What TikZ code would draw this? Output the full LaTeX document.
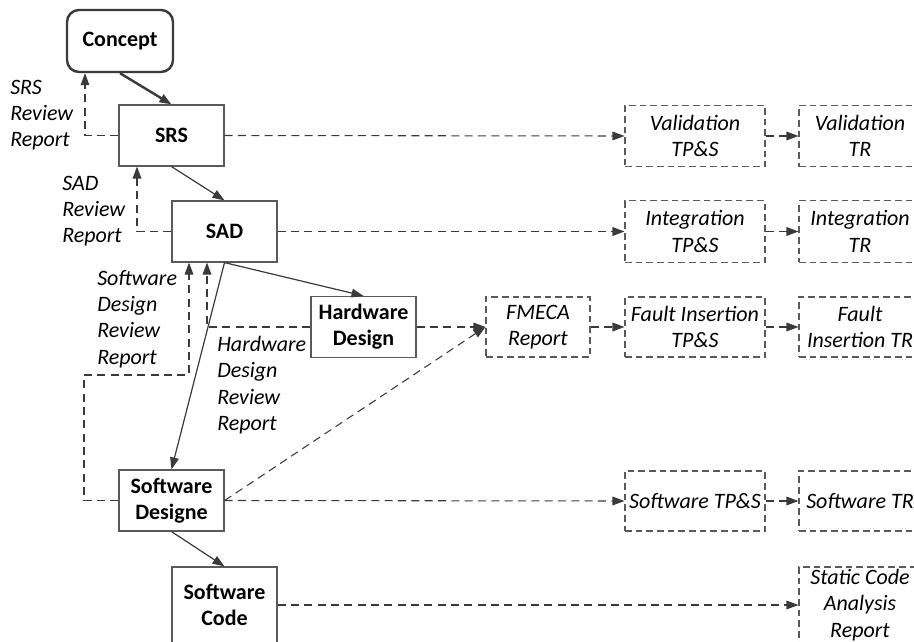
\documentclass[tikz,border=0pt]{standalone}
\usepackage{fontspec}
\setmainfont{Carlito}
\usetikzlibrary{arrows.meta,calc}
\definecolor{linegray}{HTML}{3A3A3A}
\definecolor{boxgray}{HTML}{5A5A5A}
\tikzset{
  x=0.75pt, y=-0.75pt,
  every node/.style={font=\fontsize{16.5pt}{19.7pt}\selectfont, text=black},
  solidbox/.style={draw=boxgray, line width=0.9pt, fill=white, align=center,
    inner sep=0pt, minimum width=78.75pt, minimum height=45.75pt, font=\fontsize{16.5pt}{19.7pt}\selectfont\bfseries},
  docbox/.style={draw=boxgray, line width=0.8pt, dash pattern=on 5pt off 3pt, align=center,
    inner sep=0pt, minimum width=105pt, minimum height=46pt, font=\fontsize{16.5pt}{19.7pt}\selectfont\itshape},
  tip/.style={-{Triangle[length=9pt,width=6.5pt]}},
  flow/.style={draw=linegray, line width=0.9pt, tip},
  dflow/.style={draw=linegray, line width=0.8pt, dash pattern=on 6pt off 4pt, tip},
  note/.style={align=left, anchor=west, inner sep=0pt, font=\fontsize{16.5pt}{19.7pt}\selectfont\itshape},
}
\begin{document}
\begin{tikzpicture}
\useasboundingbox (0,0) rectangle (914,642);
\begin{scope}
\clip (0,0) rectangle (914,642);

% development chain
\node[solidbox, rounded corners=9pt, line width=1.8pt, draw=linegray, minimum width=79.5pt, minimum height=46.5pt] (concept) at (120,41) {Concept};
\node[solidbox] (srs) at (171.5,135.5) {SRS};
\node[solidbox] (sad) at (224.5,231.5) {SAD};
\node[solidbox] (hd) at (363.5,327) {Hardware\\Design};
\node[solidbox] (swd) at (171.5,500.5) {Software\\Designe};
\node[solidbox, minimum height=57pt] (swc) at (224.5,605) {Software\\Code};

% test documents
\node[docbox] (valtps) at (695,136) {Validation\\TP\&S};
\node[docbox, minimum width=91.5pt] (valtr) at (860,136) {Validation\\TR};
\node[docbox] (inttps) at (695,231.5) {Integration\\TP\&S};
\node[docbox, minimum width=91.5pt] (inttr) at (860,231.5) {Integration\\TR};
\node[docbox, minimum width=78pt, minimum height=45pt] (fmeca) at (538,327) {FMECA\\Report};
\node[docbox, minimum height=45pt] (fitps) at (695,327) {Fault Insertion\\TP\&S};
\node[docbox, minimum width=91.5pt, minimum height=45pt] (fitr) at (860,327) {Fault\\Insertion TR};
\node[docbox, minimum height=45pt] (swtps) at (695,501) {Software TP\&S};
\node[docbox, minimum width=91.5pt, minimum height=45pt] (swtr) at (860,501) {Software TR};
\node[docbox, minimum width=91.5pt, minimum height=57pt] (sca) at (860,605) {Static Code\\Analysis\\Report};

% review notes
\node[note] (srsnote) at (10,115) {SRS\\Review\\Report};
\node[note] (sadnote) at (62,211) {SAD\\Review\\Report};
\node[note] (swdnote) at (97,319) {Software\\Design\\Review\\Report};
\node[note] (hdnote) at (217,385) {Hardware\\Design\\Review\\Report};

% solid flow
\draw[flow, line width=1.8pt] (concept.south) -- (srs.north);
\draw[flow] (srs.south) -- (sad.north);
\draw[flow] (sad.south) -- (hd.north);
\draw[flow] (sad.south) -- (swd.north);
\draw[flow] (swd.south) -- (swc.north);

% review feedback
\draw[dflow] (srs.west) -| ($(concept.south)+(-35,0)$);
\draw[dflow] (sad.west) -| ($(srs.south)+(-34.5,0)$);
\draw[dflow] (swd.west) -| (84,375) -| ($(sad.south)+(-35.5,0)$);
\draw[dflow] (hd.west) -| ($(sad.south)+(-17.5,0)$);

% documents produced
\draw[dflow] (srs.east) -- (valtps.west);
\draw[dflow] (sad.east) -- (inttps.west);
\draw[dflow] (hd.east) -- (fmeca.west);
\draw[dflow] (swd.east) -- (fmeca.west);
\draw[dflow] (swd.east) -- (swtps.west);
\draw[dflow] (swc.east) -- (sca.west);
\draw[dflow] (valtps.east) -- (valtr.west);
\draw[dflow] (inttps.east) -- (inttr.west);
\draw[dflow] (fmeca.east) -- (fitps.west);
\draw[dflow] (fitps.east) -- (fitr.west);
\draw[dflow] (swtps.east) -- (swtr.west);
\end{scope}
\end{tikzpicture}
\end{document}
